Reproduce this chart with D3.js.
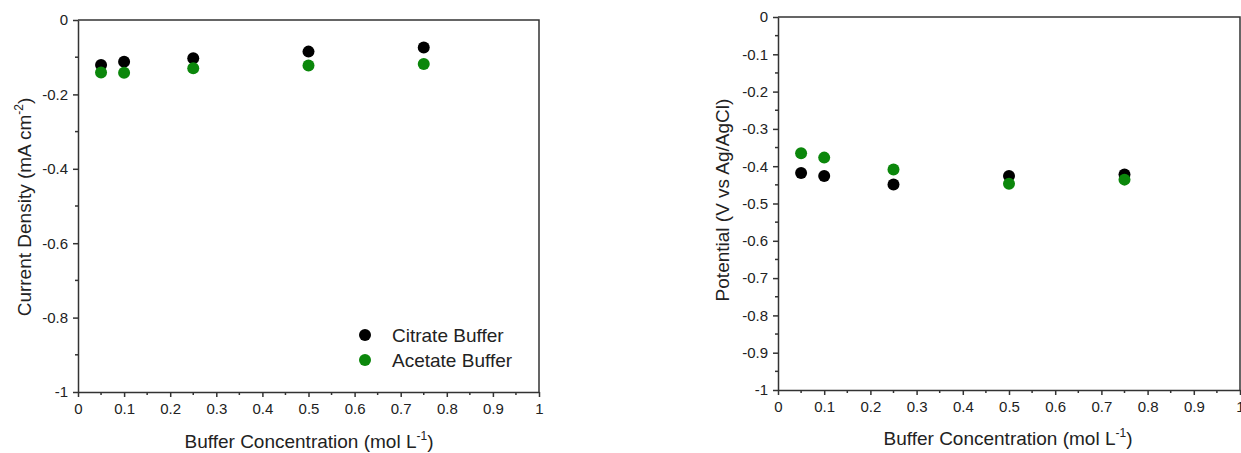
<!DOCTYPE html>
<html>
<head>
<meta charset="utf-8">
<script src="https://cdn.jsdelivr.net/npm/d3@7"></script>
<style>
  body { margin: 0; background: #fff; }
  svg { display: block; font-family: Arial, "Liberation Sans", sans-serif; }
  svg .tick text { font-size: 15px !important; font-family: Arial, "Liberation Sans", sans-serif; }
</style>
</head>
<body>
<svg width="1241" height="453"></svg>
<script>
"use strict";

// buffer concentrations (mol/L)
let conc = [0.05, 0.1, 0.25, 0.5, 0.75];

// current density, mA cm-2
let citrateCurrent = [-0.121, -0.112, -0.103, -0.085, -0.074];
let acetateCurrent = [-0.141, -0.142, -0.130, -0.122, -0.118];

// potential, V vs Ag/AgCl
let citratePotential = [-0.418, -0.426, -0.449, -0.426, -0.422];
let acetatePotential = [-0.365, -0.377, -0.409, -0.447, -0.436];

let xTicks = [0, 0.1, 0.2, 0.3, 0.4, 0.5, 0.6, 0.7, 0.8, 0.9, 1];
let leftYTicks = [0, -0.2, -0.4, -0.6, -0.8, -1];
let rightYTicks = [0, -0.1, -0.2, -0.3, -0.4, -0.5, -0.6, -0.7, -0.8, -0.9, -1];

let citrateColor = '#000000';
let acetateColor = '#0b870b';

let svg = d3.select('svg');
let axisColor = '#333';
let textColor = '#222';

let fmt = d => String(+d.toFixed(2));

let drawPanel = (opts) => {
  let x = d3.scaleLinear().domain([0, 1]).range([opts.left, opts.right]);
  let y = d3.scaleLinear().domain([-1, 0]).range([opts.bottom, opts.top]);
  let g = svg.append('g');

  // frame (top + right)
  g.append('path')
    .attr('d', `M${x(0)},${y(0)}H${x(1)}V${y(-1)}`)
    .attr('fill', 'none')
    .attr('stroke', axisColor)
    .attr('stroke-width', 1.5);

  // minor ticks
  let xMinor = [0.05, 0.15, 0.25, 0.35, 0.45, 0.55, 0.65, 0.75, 0.85, 0.95];
  g.append('g').selectAll('line').data(xMinor).enter().append('line')
    .attr('x1', d => x(d)).attr('x2', d => x(d))
    .attr('y1', y(-1)).attr('y2', y(-1) + 3)
    .attr('stroke', axisColor).attr('stroke-width', 1.5);
  g.append('g').selectAll('line').data(opts.yMinor).enter().append('line')
    .attr('x1', x(0) - 3).attr('x2', x(0))
    .attr('y1', d => y(d)).attr('y2', d => y(d))
    .attr('stroke', axisColor).attr('stroke-width', 1.5);

  let styleAxis = sel => {
    sel.attr('font-family', null).attr('font-size', 15);
    sel.selectAll('path, line').attr('stroke', axisColor).attr('stroke-width', 1.5);
    sel.selectAll('text').style('font-size', '15px').attr('fill', textColor);
  };

  g.append('g')
    .attr('transform', `translate(0,${y(-1)})`)
    .call(d3.axisBottom(x).tickValues(xTicks).tickSize(5).tickSizeOuter(0).tickPadding(6).tickFormat(fmt))
    .call(styleAxis);

  g.append('g')
    .attr('transform', `translate(${x(0)},0)`)
    .call(d3.axisLeft(y).tickValues(opts.yTicks).tickSize(5).tickSizeOuter(0).tickPadding(5).tickFormat(fmt))
    .call(styleAxis);

  let series = [
    { vals: opts.citrate, color: citrateColor },
    { vals: opts.acetate, color: acetateColor }
  ];
  series.forEach(s => {
    g.append('g').selectAll('circle')
      .data(conc.map((c, i) => [c, s.vals[i]]))
      .enter()
      .append('circle')
      .attr('cx', d => x(d[0]))
      .attr('cy', d => y(d[1]))
      .attr('r', 6)
      .attr('fill', s.color);
  });

  // axis titles
  let xt = g.append('text')
    .attr('x', opts.xTitleX)
    .attr('y', opts.xTitleY)
    .attr('text-anchor', 'middle')
    .attr('font-size', 19)
    .attr('fill', textColor)
    .text('Buffer Concentration (mol L');
  xt.append('tspan').attr('dy', -8).attr('font-size', 12).text('-1');
  xt.append('tspan').attr('dy', 8).text(')');

  let yt = g.append('text')
    .attr('transform', `translate(${opts.yTitleX},${opts.yTitleY}) rotate(-90)`)
    .attr('text-anchor', 'middle')
    .attr('font-size', 19)
    .attr('fill', textColor);
  opts.yTitle(yt);
  return { x, y, g };
};

let left = drawPanel({
  left: 78, right: 539, top: 20, bottom: 392,
  yTicks: leftYTicks,
  yMinor: [-0.1, -0.3, -0.5, -0.7, -0.9],
  citrate: citrateCurrent, acetate: acetateCurrent,
  xTitleX: 309, xTitleY: 448, yTitleX: 31, yTitleY: 207,
  yTitle: t => {
    t.text('Current Density (mA cm');
    t.append('tspan').attr('dy', -8).attr('font-size', 12).text('-2');
    t.append('tspan').attr('dy', 8).text(')');
  }
});

drawPanel({
  left: 778, right: 1240, top: 17, bottom: 390,
  yTicks: rightYTicks,
  yMinor: [-0.05, -0.15, -0.25, -0.35, -0.45, -0.55, -0.65, -0.75, -0.85, -0.95],
  citrate: citratePotential, acetate: acetatePotential,
  xTitleX: 1008, xTitleY: 445, yTitleX: 729, yTitleY: 200,
  yTitle: t => t.text('Potential (V vs Ag/AgCl)')
});

// legend
let legendItems = [['Citrate Buffer', citrateColor], ['Acetate Buffer', acetateColor]];
let lg = left.g.append('g');
lg.selectAll('circle').data(legendItems).enter().append('circle')
  .attr('cx', 365).attr('cy', (d, i) => 335 + i * 25)
  .attr('r', 6).attr('fill', d => d[1]);
lg.selectAll('text').data(legendItems).enter().append('text')
  .attr('x', 392).attr('y', (d, i) => 342 + i * 25)
  .attr('font-size', 19).attr('fill', textColor)
  .text(d => d[0]);
</script>
</body>
</html>
